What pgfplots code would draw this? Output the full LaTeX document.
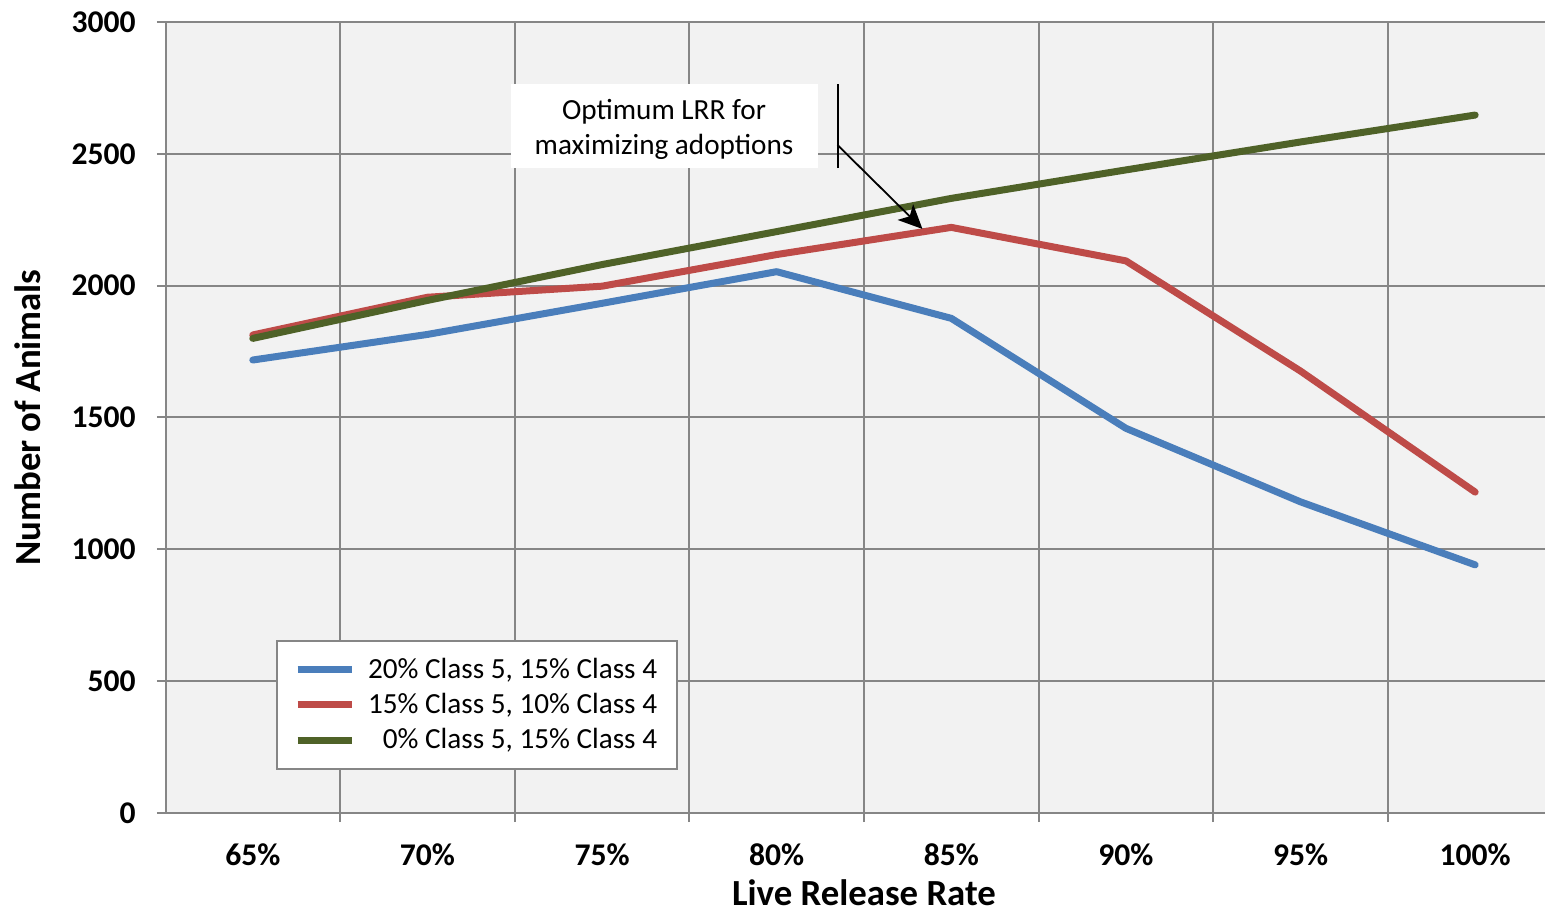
\documentclass[border=0pt]{standalone}
\usepackage{pgfplots}
\pgfplotsset{compat=1.18}
\usepackage{fontspec}
\setmainfont{Carlito}
\usetikzlibrary{arrows.meta}

\definecolor{seriesblue}{HTML}{4A7EBB}
\definecolor{seriesred}{HTML}{BE4B48}
\definecolor{seriesgreen}{HTML}{4F6228}
\definecolor{gridgray}{HTML}{868686}
\definecolor{plotbg}{HTML}{F2F2F2}

\begin{document}
\begin{tikzpicture}
\begin{axis}[
  at={(0,0)}, anchor=south west,
  scale only axis,
  width=689.5pt, height=395.5pt,
  xmin=-0.497, xmax=7.4,
  ymin=0, ymax=3000,
  axis background/.style={fill=plotbg},
  axis x line*=bottom, axis y line*=left,
  axis line style={-, draw=gridgray, line width=1pt},
  tick align=outside,
  xtick pos=bottom, ytick pos=left,
  xtick={-0.5,0.5,...,6.5},
  xticklabels={},
  major tick length=4.5pt,
  tick style={draw=gridgray, line width=1pt},
  grid style={draw=gridgray, line width=1pt},
  xmajorgrids, ymajorgrids,
  ytick={0,500,...,3000},
  /pgf/number format/assume math mode=true,
  /pgf/number format/1000 sep={},
  yticklabel style={font=\fontsize{15.8}{19}\selectfont\bfseries, inner sep=0pt, xshift=-10.5pt},
  extra x ticks={0,1,2,3,4,5,6,7},
  extra x tick labels={65\%,70\%,75\%,80\%,85\%,90\%,95\%,100\%},
  extra x tick style={major tick length=0pt, grid=none,
    xticklabel style={font=\fontsize{15.8}{19}\selectfont\bfseries, anchor=base, inner sep=0pt, yshift=-26.5pt}},
  xlabel={Live Release Rate},
  ylabel={Number of Animals},
  every axis x label/.style={at={(axis cs:3.5,0)}, anchor=base, yshift=-46pt,
    font=\fontsize{18.4}{22}\selectfont\bfseries},
  every axis y label/.style={at={(axis description cs:-0.1,0.5)}, anchor=center, rotate=90,
    font=\fontsize{18.4}{22}\selectfont\bfseries},
  legend cell align=right,
  legend style={at={(rel axis cs:0.0798,0.2187)}, anchor=north west,
    draw=gridgray, line width=1pt, fill=white,
    font=\fontsize{14.6}{17.5}\selectfont,
    inner xsep=8.5pt, inner ysep=7pt, row sep=3pt,
    nodes={inner sep=1.5pt},
    /tikz/every odd column/.append style={column sep=5pt}},
  legend image code/.code={\draw[line width=3.5pt, line cap=butt] (0pt,0pt) -- (27pt,0pt);},
  every axis plot/.append style={line width=3.5pt, line cap=round, line join=round},
]
\addplot[seriesblue] coordinates {(0,1718) (1,1815) (2,1933) (3,2053) (4,1876) (5,1459) (6,1180) (7,941)};
\addlegendentry{20\% Class 5, 15\% Class 4}
\addplot[seriesred] coordinates {(0,1813) (1,1956) (2,1998) (3,2118) (4,2221) (5,2094) (6,1676) (7,1217)};
\addlegendentry{15\% Class 5, 10\% Class 4}
\addplot[seriesgreen] coordinates {(0,1800) (1,1944) (2,2080) (3,2205) (4,2331) (5,2439) (6,2545) (7,2647)};
\addlegendentry{0\% Class 5, 15\% Class 4}

% callout for the optimum live release rate
\fill[white] (axis cs:1.477,2446) rectangle (axis cs:3.234,2765);
\node[align=center, font=\fontsize{14.6}{17.5}\selectfont] at (axis cs:2.355,2594)
  {Optimum LRR for\\maximizing adoptions};
\draw[black, line width=1pt] (axis cs:3.349,2446) -- (axis cs:3.349,2765);
\draw[black, line width=0.9pt, -{Stealth[length=12pt, width=11pt, inset=3pt]}]
  (axis cs:3.349,2533) -- (axis cs:3.835,2215);
\end{axis}
\pgfresetboundingbox
\path (-83pt,-50.5pt) rectangle (689.5pt,406.5pt);
\end{tikzpicture}
\end{document}
